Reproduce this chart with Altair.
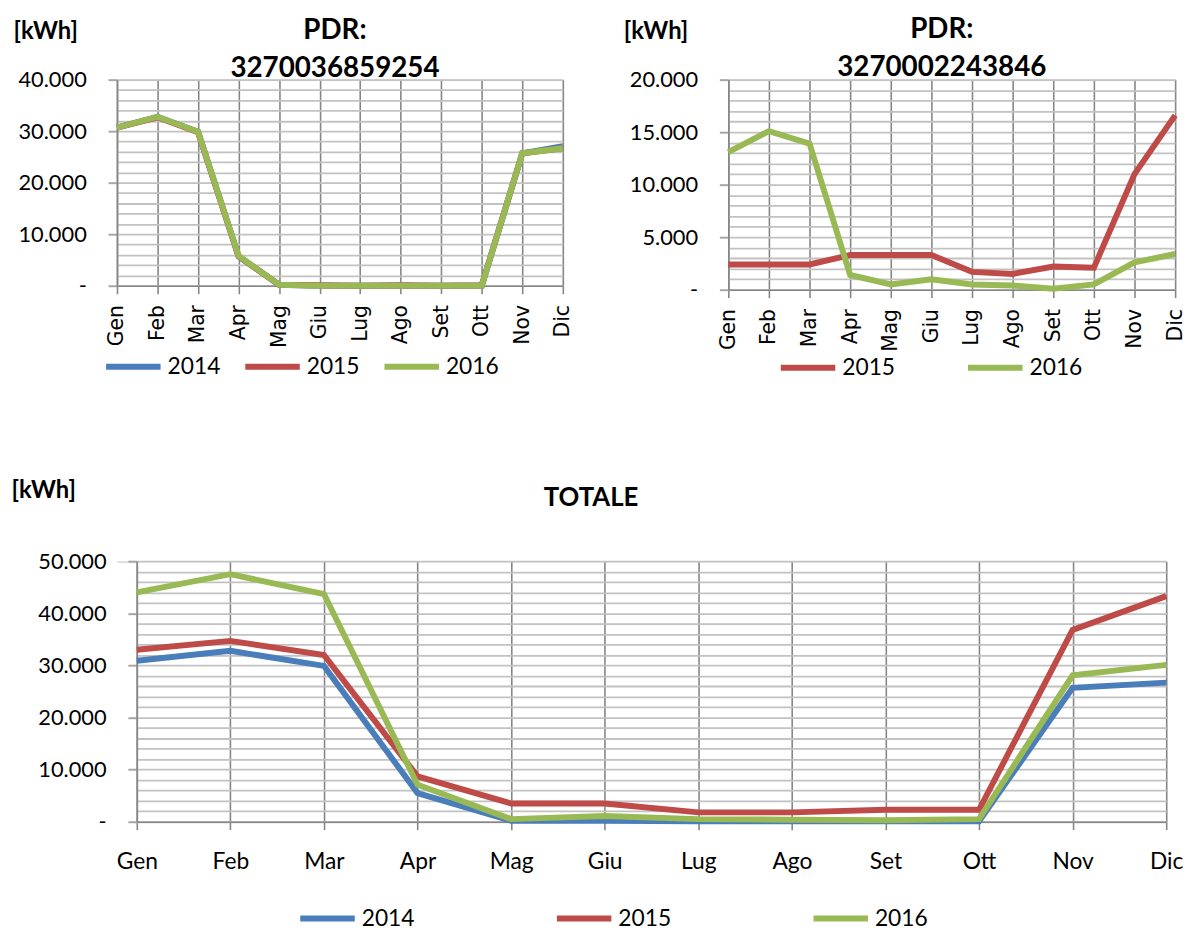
import altair as alt
import pandas as pd

months = ["Gen", "Feb", "Mar", "Apr", "Mag", "Giu", "Lug", "Ago", "Set", "Ott", "Nov", "Dic"]
years = ["2014", "2015", "2016"]
year_colors = ["#4a7ebb", "#be4b48", "#98b954"]

pdr1_title = ["PDR:", "3270036859254"]
pdr2_title = ["PDR:", "3270002243846"]
total_title = "TOTALE"
unit = "[kWh]"

# PDR 3270036859254
pdr1_2014 = [30700, 32800, 29900, 5700, 200, 0, 0, 0, 0, 0, 25700, 27100]
pdr1_2015 = [30700, 32700, 29800, 5700, 200, 100, 0, 100, 0, 100, 25700, 26700]
pdr1_2016 = [30700, 32800, 29900, 5800, 200, 0, 0, 0, 0, 0, 25700, 26700]
# PDR 3270002243846
pdr2_2015 = [2400, 2400, 2400, 3300, 3300, 3300, 1700, 1500, 2200, 2100, 11000, 16600]
pdr2_2016 = [13100, 15100, 13900, 1400, 500, 1000, 500, 400, 100, 500, 2600, 3400]
# TOTALE
tot_2014 = [30900, 32800, 29900, 5500, 200, 200, 100, 100, 100, 100, 25700, 26700]
tot_2015 = [33000, 34700, 32000, 8700, 3500, 3500, 1800, 1800, 2300, 2300, 36800, 43300]
tot_2016 = [44000, 47500, 43700, 7100, 500, 1100, 500, 400, 300, 500, 28100, 30100]

FONT = "Lato"
NBSP = "\u00a0"


def long_table(series):
    rows = []
    for yr, vals in series:
        for m, v in zip(months, vals):
            rows.append({"Mese": m, "Anno": yr, "kWh": v})
    return pd.DataFrame(rows)


def panel(df, yrs, ymax, major, minor, title, title_size, title_dx, title_offset,
          width, height, unit_x, unit_y, leg_x, leg_y, leg_pad, rotate):
    grid_vals = list(range(0, ymax + 1, minor))
    label_expr = (
        f"datum.value == 0 ? '-{NBSP}{NBSP}{NBSP}' : "
        f"(datum.value % {major} == 0 ? replace(format(datum.value, ','), ',', '.') : '')"
    )
    rng = [year_colors[years.index(y)] for y in yrs]
    if rotate:
        x_axis = alt.Axis(
            title=None, labelAngle=-90, labelFont="DejaVu Sans", labelFontSize=20.5,
            labelPadding=11, labelOverlap=False, tickSize=8, tickColor="#868686",
            tickWidth=1.6, grid=True, gridColor="#868686", gridWidth=1.6,
            domainColor="#868686", domainWidth=1.6, labelColor="#000000",
        )
    else:
        x_axis = alt.Axis(
            title=None, labelAngle=0, labelFont=FONT, labelFontSize=23,
            labelPadding=21, labelOverlap=False, tickSize=8, tickColor="#868686",
            tickWidth=1.6, grid=True, gridColor="#868686", gridWidth=1.6,
            domainColor="#868686", domainWidth=1.6, labelColor="#000000",
        )
    y_axis = alt.Axis(
        values=grid_vals, labelExpr=label_expr, labelFont=FONT, labelFontSize=22,
        labelColor="#000000", labelPadding=22, labelOverlap=False, labelFlush=False,
        tickSize=9, tickColor="#a6a6a6", tickWidth=2,
        tickOpacity={"condition": {"test": f"datum.value % {major} == 0", "value": 1}, "value": 0},
        grid=True, gridColor="#c2c2c2", gridWidth=1.8,
        domainColor="#868686", domainWidth=1.6,
        title=unit, titleAngle=0, titleX=unit_x, titleY=unit_y, titleAlign="left",
        titleBaseline="middle", titleFont=FONT, titleFontSize=24, titleFontWeight="bold",
        titleColor="#000000",
    )
    return alt.Chart(df).mark_line(strokeWidth=6).encode(
        x=alt.X("Mese:N", sort=months, scale=alt.Scale(type="point", padding=0), axis=x_axis),
        y=alt.Y("kWh:Q", scale=alt.Scale(domain=[0, ymax], nice=False, zero=True), axis=y_axis),
        color=alt.Color(
            "Anno:N",
            scale=alt.Scale(domain=yrs, range=rng),
            legend=alt.Legend(
                title=None, orient="none", legendX=leg_x, legendY=leg_y, direction="horizontal",
                symbolType="stroke", symbolSize=3025, symbolStrokeWidth=6,
                labelFont=FONT, labelFontSize=23, labelColor="#000000", labelOffset=4,
                columnPadding=leg_pad, padding=0,
            ),
        ),
    ).properties(
        width=width,
        height=height,
        title=alt.TitleParams(
            text=title, font=FONT, fontSize=title_size, fontWeight="bold", color="#000000",
            anchor="middle", frame="group", offset=title_offset, dx=title_dx, lineHeight=38,
        ),
    )


df1 = long_table([("2014", pdr1_2014), ("2015", pdr1_2015), ("2016", pdr1_2016)])
df2 = long_table([("2015", pdr2_2015), ("2016", pdr2_2016)])
df3 = long_table([("2014", tot_2014), ("2015", tot_2015), ("2016", tot_2016)])

chart_a = panel(df1, years, 40000, 10000, 2000, pdr1_title, 28, -5, -64,
                450, 208, -105, -49, -14, 259, 12.5, True)
chart_b = panel(df2, ["2015", "2016"], 20000, 5000, 1000, pdr2_title, 28, -10, -63,
                451, 212, -106, -49, 50, 260, 61, True)
chart_c = panel(df3, years, 50000, 10000, 2000, total_title, 26, -61, -32,
                1039, 263, -127, -71, 162, 330, 131, False)

spacer = alt.Chart(pd.DataFrame({"v": [0]})).mark_point(opacity=0).encode(
    x=alt.value(0), y=alt.value(0)
).properties(width=20, height=1)

top = alt.hconcat(chart_a, chart_b, spacing=167, bounds="flush").resolve_scale(
    color="independent", x="independent", y="independent"
).resolve_legend(color="independent")
bottom = alt.hconcat(spacer, chart_c, spacing=0, bounds="flush").resolve_scale(
    color="independent", x="independent", y="independent"
).resolve_legend(color="independent")

chart = alt.vconcat(top, bottom, spacing=486, bounds="flush").resolve_scale(
    color="independent", x="independent", y="independent"
).resolve_legend(color="independent").properties(
    padding={"left": 2, "top": 3, "right": 0, "bottom": 0}
).configure_view(stroke=None).configure(background="#ffffff")

chart.save("out.html", embed_options={"renderer": "svg", "actions": False})
